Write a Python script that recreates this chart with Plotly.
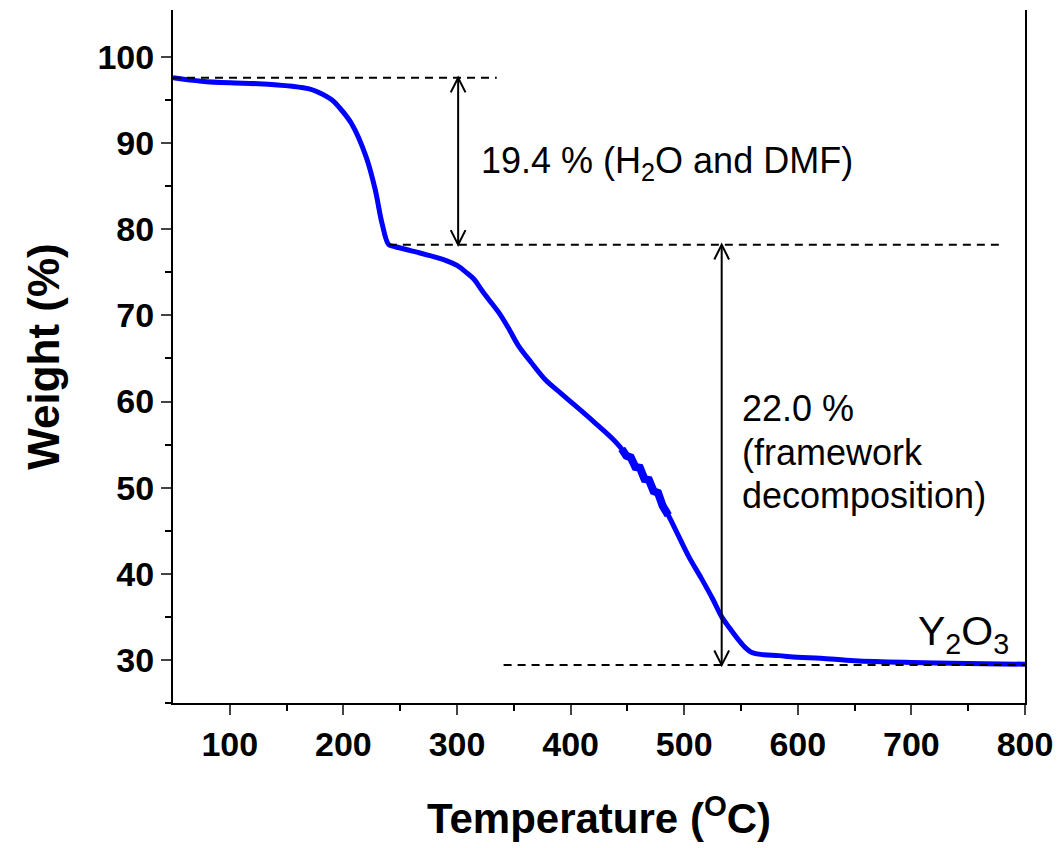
import plotly.graph_objects as go

# TGA curve
temperature = [50, 75, 100, 125, 155, 170, 178, 190, 196, 207, 220, 228, 234, 240, 245,
               260, 280, 290, 300, 308, 315, 322, 330, 337, 345, 354, 365, 378, 392, 407, 420, 436,
               445, 449, 453, 457, 461, 465, 469, 473, 477, 481, 486,
               495, 504, 515, 525, 533, 540, 548, 554, 559, 570, 583, 600, 620, 650, 700, 750, 800]
weight = [97.6, 97.2, 97.0, 96.9, 96.6, 96.3, 95.9, 95.0, 94.2, 92.3, 88.4, 84.6, 80.7, 78.2, 78.0,
          77.5, 76.8, 76.4, 75.8, 75.0, 74.2, 72.9, 71.5, 70.3, 68.6, 66.5, 64.6, 62.5, 60.9, 59.2, 57.7, 55.8,
          54.5, 53.7, 53.5, 52.4, 52.3, 51.0, 50.9, 49.6, 49.4, 47.9, 46.8,
          44.4, 42.0, 39.5, 37.1, 35.0, 33.7, 32.3, 31.4, 30.9, 30.6, 30.5, 30.3, 30.2, 29.9, 29.7, 29.6, 29.5]

# noisy section of the curve drawn thicker
noisy_from, noisy_to = 445, 486

# annotation levels
level_start = 97.6
level_mid = 78.2
level_end = 29.4
arrow1_x = 301
arrow2_x = 533
dash1 = (50, 335)
dash2 = (240, 779)
dash3 = (341, 800)

x_ticks = [100, 200, 300, 400, 500, 600, 700, 800]
y_ticks = [30, 40, 50, 60, 70, 80, 90, 100]

FONT = "Liberation Sans, Arial, sans-serif"

fig = go.Figure()
fig.add_trace(go.Scatter(x=temperature, y=weight, mode="lines",
                         line=dict(color="#0000FF", width=5, shape="spline", smoothing=1.0),
                         showlegend=False, hoverinfo="skip"))
nx = [t for t in temperature if noisy_from <= t <= noisy_to]
ny = [w for t, w in zip(temperature, weight) if noisy_from <= t <= noisy_to]
fig.add_trace(go.Scatter(x=nx, y=ny, mode="lines",
                         line=dict(color="#0000FF", width=8),
                         showlegend=False, hoverinfo="skip"))

shapes = []
for (x0, x1), yv in [(dash1, level_start), (dash2, level_mid), (dash3, level_end)]:
    shapes.append(dict(type="line", xref="x", yref="y", x0=x0, x1=x1, y0=yv, y1=yv,
                       line=dict(color="black", width=2, dash="8px,6px")))

hx, hy = 6.5, 1.7
def arrow(xa, ytop, ybot):
    res = [dict(type="line", xref="x", yref="y", x0=xa, x1=xa, y0=ytop, y1=ybot,
                line=dict(color="black", width=2))]
    res.append(dict(type="path", xref="x", yref="y",
                    path=f"M {xa-hx},{ytop-hy} L {xa},{ytop} L {xa+hx},{ytop-hy}",
                    line=dict(color="black", width=2)))
    res.append(dict(type="path", xref="x", yref="y",
                    path=f"M {xa-hx},{ybot+hy} L {xa},{ybot} L {xa+hx},{ybot+hy}",
                    line=dict(color="black", width=2)))
    return res

shapes += arrow(arrow1_x, level_start, level_mid)
shapes += arrow(arrow2_x, level_mid, level_end)

ann_font = dict(family=FONT, size=36, color="black")
annotations = [
    dict(x=319, y=87.7, xref="x", yref="y", xanchor="left", yanchor="middle",
         text="19.4 % (H<sub>2</sub>O and DMF)", showarrow=False, font=ann_font),
    dict(x=549, y=59.2, xref="x", yref="y", xanchor="left", yanchor="middle",
         text="22.0 %", showarrow=False, font=ann_font),
    dict(x=549, y=54.1, xref="x", yref="y", xanchor="left", yanchor="middle",
         text="(framework", showarrow=False, font=ann_font),
    dict(x=549, y=49.1, xref="x", yref="y", xanchor="left", yanchor="middle",
         text="decomposition)", showarrow=False, font=ann_font),
    dict(x=788, y=33.0, xref="x", yref="y", xanchor="right", yanchor="middle",
         text="Y<sub>2</sub>O<sub>3</sub>", showarrow=False,
         font=dict(family=FONT, size=41, color="black")),
]

fig.update_layout(
    width=1063, height=848,
    margin=dict(l=173, r=36, t=10, b=145),
    paper_bgcolor="white", plot_bgcolor="white",
    shapes=shapes, annotations=annotations,
    xaxis=dict(range=[50, 800], tickvals=x_ticks, ticks="outside", ticklen=10, tickwidth=2,
               showline=True, linecolor="black", linewidth=2, mirror=False, showgrid=False,
               zeroline=False,
               minor=dict(tickvals=[150, 250, 350, 450, 550, 650, 750], ticks="outside",
                          ticklen=6, tickwidth=2, tickcolor="black"),
               tickfont=dict(family=FONT, size=34, color="black", weight="bold"),
               title=dict(text="Temperature (<sup>O</sup>C)", standoff=42,
                          font=dict(family=FONT, size=42, color="black", weight="bold"))),
    yaxis=dict(range=[25, 105.46], tickvals=y_ticks, ticks="outside", ticklen=10, tickwidth=2,
               showline=True, linecolor="black", linewidth=2, mirror=True, showgrid=False,
               zeroline=False,
               minor=dict(tickvals=[25, 35, 45, 55, 65, 75, 85, 95], ticks="outside",
                          ticklen=6, tickwidth=2, tickcolor="black"),
               tickfont=dict(family=FONT, size=34, color="black", weight="bold"),
               title=dict(text="Weight (%)", standoff=24,
                          font=dict(family=FONT, size=44, color="black", weight="bold"))),
)

fig.write_html("out.html")
